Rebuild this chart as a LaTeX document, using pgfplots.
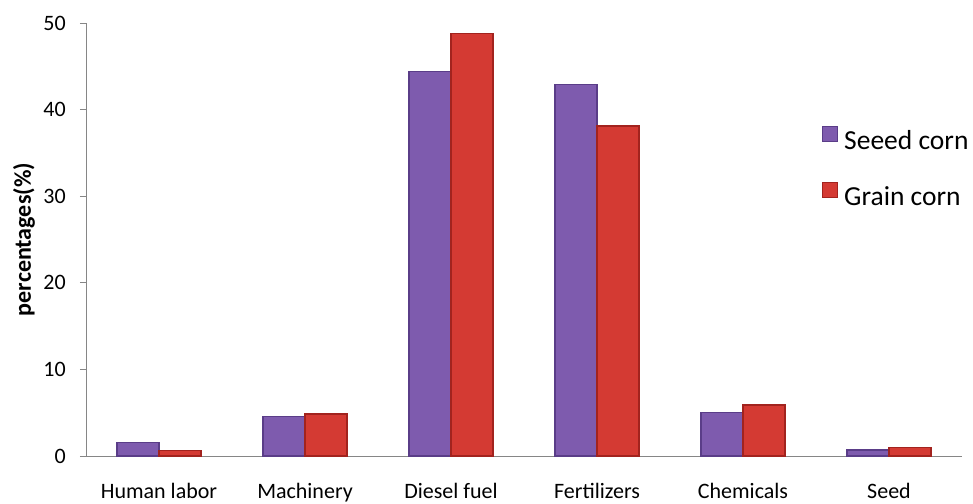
\documentclass[border=0pt]{standalone}
\usepackage{fontspec}
\setmainfont{Carlito}
\usepackage{pgfplots}
\pgfplotsset{compat=1.18}

\definecolor{seedfill}{HTML}{7E5BAE}
\definecolor{seededge}{HTML}{5A3D88}
\definecolor{grainfill}{HTML}{D43A33}
\definecolor{grainedge}{HTML}{A2231E}
\definecolor{axisgray}{HTML}{868686}

\begin{document}
\begin{tikzpicture}
\useasboundingbox (-86pt,-47pt) rectangle (887pt,456pt);
\begin{axis}[
  at={(0pt,0pt)},
  scale only axis, width=876pt, height=433pt,
  xmin=-0.5, xmax=5.5, ymin=0, ymax=50,
  ybar=0pt, bar width=42pt,
  axis x line*=bottom, axis y line*=left,
  axis line style={axisgray, line width=0.8pt},
  xtick={0,...,5},
  xticklabels={Human labor,Machinery,Diesel fuel,Fertilizers,Chemicals,Seed},
  x tick style={draw=none},
  ytick={0,10,...,50},
  y tick style={axisgray, line width=0.8pt},
  tick align=outside, major tick length=6pt,
  tick label style={font=\fontsize{22}{26}\selectfont, text=black},
  /pgf/number format/assume math mode=true,
  yticklabel style={anchor=east, inner sep=0pt, xshift=-14pt},
  xticklabel style={anchor=base, inner sep=0pt, yshift=-36pt},
  ylabel={percentages(\%)},
  ylabel style={font=\fontsize{24}{28}\selectfont\bfseries,
    at={(axis description cs:-0.0708,0.5)}, anchor=center},
  legend cell align=left,
  legend style={at={(rel axis cs:0.8402,0.762)}, anchor=north west,
    draw=none, fill=none, inner sep=0pt, row sep=27pt, column sep=6pt,
    font=\fontsize{27.5}{33}\selectfont,
    nodes={inner sep=0pt, text height=20pt, text depth=6pt}},
  legend image code/.code={\draw[#1, line width=1pt] (0pt,0.5pt) rectangle (15pt,15.5pt);},
]
\addplot[fill=seedfill, draw=seededge, line width=1.2pt] coordinates
  {(0,1.6) (1,4.6) (2,44.4) (3,42.9) (4,5.0) (5,0.7)};
\addplot[fill=grainfill, draw=grainedge, line width=1.2pt] coordinates
  {(0,0.6) (1,4.85) (2,48.8) (3,38.1) (4,5.9) (5,0.95)};
\legend{Seeed corn, Grain corn}
\end{axis}
\end{tikzpicture}
\end{document}
